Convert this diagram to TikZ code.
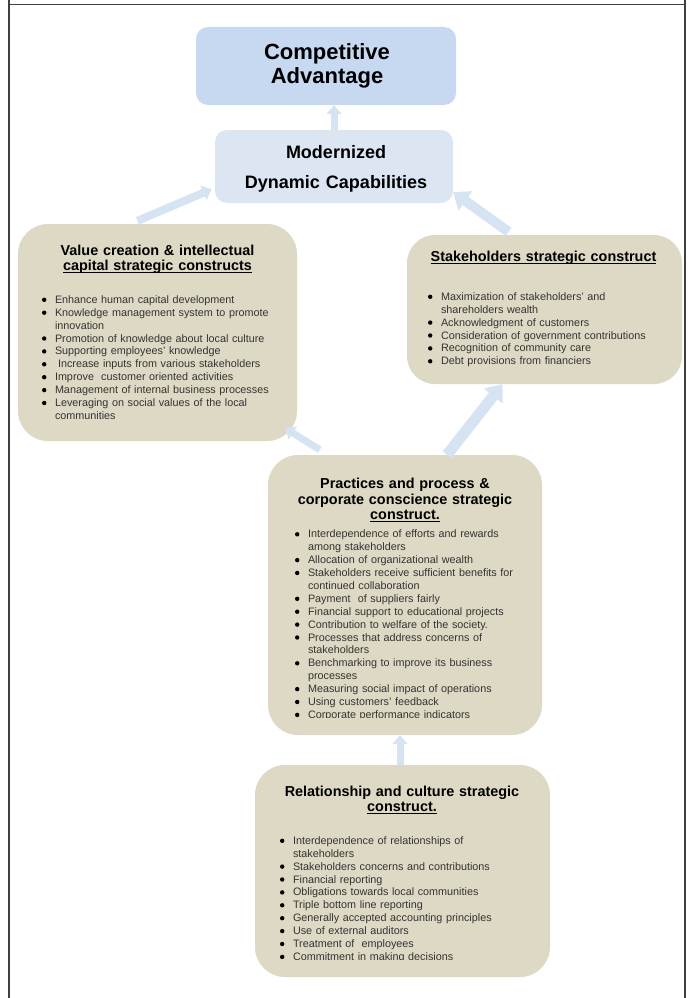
\documentclass[tikz,border=0pt]{standalone}
\usepackage{fontspec}
\setmainfont{Liberation Sans}
\usetikzlibrary{arrows.meta,positioning}
\definecolor{topblue}{RGB}{198,217,241}
\definecolor{midblue}{RGB}{220,230,242}
\definecolor{flowblue}{RGB}{214,227,243}
\definecolor{constructtan}{RGB}{221,217,196}
\definecolor{framegray}{RGB}{64,64,64}
\newcommand{\undl}[1]{\leavevmode\setbox0\hbox{#1}\rlap{\rule[-2.2pt]{\wd0}{1pt}}\box0}
\newcommand{\bitem}[1]{\noindent\hangindent=13pt\hangafter=1\makebox[13pt][l]{\tikz[baseline=0pt]\fill[black] (2.2pt,3.5pt) circle[radius=2.2pt];}#1\par}
\tikzset{
  goalbox/.style={rounded corners=12pt, inner sep=0pt},
  constructbox/.style={fill=constructtan, rounded corners=30pt, inner sep=0pt},
  heading/.style={anchor=base, inner sep=0pt, align=center, font=\bfseries\fontsize{14.4pt}{14.5pt}\selectfont},
  bullets/.style={anchor=base west, inner sep=0pt, align=left, text width=240pt, text=black!80, font=\fontsize{10.8pt}{12.9pt}\selectfont},
  flow/.style={draw=flowblue, line width=7pt, -{Triangle[length=9pt,width=15pt]}},
  wideflow/.style={draw=flowblue, line width=11pt, -{Triangle[length=15pt,width=23pt]}}
}
\begin{document}
\begin{tikzpicture}[x=1pt,y=-1pt]
  \useasboundingbox (0,0) rectangle (693,998);
  \draw[framegray, line width=1.5pt] (9,0) -- (9,998) (685,0) -- (685,998) (9,4.5) -- (685,4.5);

  \node[goalbox, fill=topblue, minimum width=260pt, minimum height=78pt] (compet) at (326,66) {};
  \node[goalbox, fill=midblue, minimum width=238pt, minimum height=73pt] (modern) at (334,166.5) {};
  \node[constructbox, minimum width=279pt, minimum height=217pt] (value) at (157.5,332.5) {};
  \node[constructbox, minimum width=275pt, minimum height=149pt, rounded corners=28pt] (stake) at (544.5,309.5) {};
  \node[constructbox, minimum width=274pt, minimum height=280pt] (pract) at (405,595) {};
  \node[constructbox, minimum width=295pt, minimum height=212pt] (relat) at (402.5,871) {};

  \node[heading, text width=250pt, font=\bfseries\fontsize{22pt}{24pt}\selectfont] (compettitle)
    at ([xshift=1pt,yshift=-33pt]compet.north) {Competitive\\Advantage};
  \node[heading, text width=230pt, font=\bfseries\fontsize{18pt}{30pt}\selectfont] (moderntitle)
    at ([xshift=2pt,yshift=-29pt]modern.north) {Modernized\\Dynamic Capabilities};
  \node[heading, text width=260pt] (valuetitle) at ([yshift=-32pt]value.north)
    {Value creation \& intellectual\\\undl{capital strategic constructs}};
  \node[heading, text width=260pt] (staketitle) at ([xshift=-1pt,yshift=-27pt]stake.north)
    {\undl{Stakeholders strategic construct}};
  \node[heading, text width=260pt, font=\bfseries\fontsize{14.4pt}{15.5pt}\selectfont] (practtitle) at ([yshift=-34pt]pract.north)
    {Practices and process \&\\corporate conscience strategic\\\undl{construct.}};
  \node[heading, text width=280pt] (relattitle) at ([xshift=-0.5pt,yshift=-32pt]relat.north)
    {Relationship and culture strategic\\\undl{construct.}};

  \node[bullets] (valuelist) at ([xshift=24pt,yshift=-79.5pt]value.north west) {%
    \bitem{Enhance human capital development}
    \bitem{Knowledge management system to promote\newline innovation}
    \bitem{Promotion of knowledge about local culture}
    \bitem{Supporting employees' knowledge}
    \bitem{\hspace{3pt}Increase inputs from various stakeholders}
    \bitem{Improve~ customer oriented activities}
    \bitem{Management of internal business processes}
    \bitem{Leveraging on social values of the local\newline communities}};
  \node[bullets] (stakelist) at ([xshift=21pt,yshift=-65.5pt]stake.north west) {%
    \bitem{Maximization of stakeholders' and\newline shareholders wealth}
    \bitem{Acknowledgment of customers}
    \bitem{Consideration of government contributions}
    \bitem{Recognition of community care}
    \bitem{Debt provisions from financiers}};
  \begin{scope}
    \clip (pract.north west) rectangle ([yshift=17.5pt]pract.south east);
    \node[bullets] (practlist) at ([xshift=27pt,yshift=-83pt]pract.north west) {%
      \bitem{Interdependence of efforts and rewards\newline among stakeholders}
      \bitem{Allocation of organizational wealth}
      \bitem{Stakeholders receive sufficient benefits for\newline continued collaboration}
      \bitem{Payment~ of suppliers fairly}
      \bitem{Financial support to educational projects}
      \bitem{Contribution to welfare of the society.}
      \bitem{Processes that address concerns of\newline stakeholders}
      \bitem{Benchmarking to improve its business\newline processes}
      \bitem{Measuring social impact of operations}
      \bitem{Using customers' feedback}
      \bitem{Corporate performance indicators}};
  \end{scope}
  \begin{scope}
    \clip (relat.north west) rectangle ([yshift=18pt]relat.south east);
    \node[bullets] (relatlist) at ([xshift=25pt,yshift=-79.5pt]relat.north west) {%
      \bitem{Interdependence of relationships of\newline stakeholders}
      \bitem{Stakeholders concerns and contributions}
      \bitem{Financial reporting}
      \bitem{Obligations towards local communities}
      \bitem{Triple bottom line reporting}
      \bitem{Generally accepted accounting principles}
      \bitem{Use of external auditors}
      \bitem{Treatment of~ employees}
      \bitem{Commitment in making decisions}};
  \end{scope}

  \draw[flow] (modern.north) -- (modern.north |- compet.south);
  \draw[flow, line width=8pt] ([xshift=-20pt,yshift=3pt]value.north) -- ([xshift=-3pt,yshift=14pt]modern.south west);
  \draw[wideflow, line width=10pt] ([xshift=-36pt,yshift=3pt]stake.north) -- ([yshift=11pt]modern.south east);
  \draw[flow] ([xshift=52pt,yshift=5pt]pract.north west) -- ([xshift=-12pt,yshift=13pt]value.south east);
  \draw[wideflow] ([xshift=42pt]pract.north) -- ([xshift=-42pt]stake.south);
  \draw[flow] ([xshift=-2.5pt]relat.north) -- ([xshift=-2.5pt]relat.north |- pract.south);
\end{tikzpicture}
\end{document}
